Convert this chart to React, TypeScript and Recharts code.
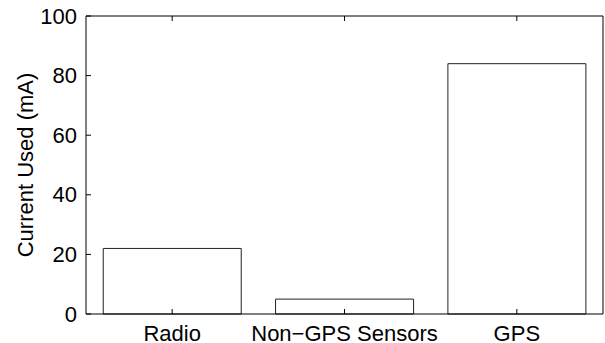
import { BarChart, Bar, XAxis, YAxis } from 'recharts'

const categories = ['Radio', 'Non\u2212GPS Sensors', 'GPS']
const currentUsed = [22, 5, 84]
const yTicks = [0, 20, 40, 60, 80, 100]

const data = categories.map((name, i) => ({ name, value: currentUsed[i] }))

const FONT = 'Liberation Sans, Arial, Helvetica, sans-serif'
const TICK_LEN = 5
const PLOT = { left: 86, right: 603, top: 16, bottom: 314 }

// ticks drawn inward, MATLAB style
function LeftTick(props: any) {
  const { y, payload } = props
  const x = PLOT.left
  return (
    <g>
      <line x1={x} x2={x + TICK_LEN} y1={y} y2={y} stroke="#000" />
      <text x={x - 9} y={y} dy={7.5} textAnchor="end" fontSize={22} fontFamily={FONT} fill="#000">
        {payload.value}
      </text>
    </g>
  )
}

function RightTick(props: any) {
  const { y } = props
  const x = PLOT.right
  return <line x1={x} x2={x - TICK_LEN} y1={y} y2={y} stroke="#000" />
}

function BottomTick(props: any) {
  const { x, payload } = props
  const y = PLOT.bottom
  return (
    <g>
      <line x1={x} x2={x} y1={y} y2={y - TICK_LEN} stroke="#000" />
      <text x={x} y={341} textAnchor="middle" fontSize={22} fontFamily={FONT} fill="#000">
        {payload.value}
      </text>
    </g>
  )
}

function TopTick(props: any) {
  const { x } = props
  const y = PLOT.top
  return <line x1={x} x2={x} y1={y} y2={y + TICK_LEN} stroke="#000" />
}

function YLabel() {
  const cy = (PLOT.top + PLOT.bottom) / 2
  return (
    <text
      x={33}
      y={cy}
      transform={`rotate(-90, 33, ${cy})`}
      textAnchor="middle"
      fontSize={22}
      fontFamily={FONT}
      fill="#000"
    >
      Current Used (mA)
    </text>
  )
}

export default function App() {
  return (
    <div style={{ position: 'absolute', left: 0, top: 0, width: 605, height: 343, background: '#fff' }}>
      <BarChart
        width={605}
        height={343}
        data={data}
        margin={{ top: 15, right: 1, left: 0, bottom: 0 }}
        barCategoryGap="10%"
      >
        <XAxis
          dataKey="name"
          height={29}
          stroke="#000"
          tickLine={false}
          tick={<BottomTick />}
          interval={0}
        />
        <XAxis
          xAxisId="top"
          dataKey="name"
          orientation="top"
          height={1}
          stroke="#000"
          tickLine={false}
          tick={<TopTick />}
          interval={0}
        />
        <YAxis
          width={86}
          domain={[0, 100]}
          ticks={yTicks}
          stroke="#000"
          tickLine={false}
          tick={<LeftTick />}
          label={<YLabel />}
        />
        <YAxis
          yAxisId="right"
          orientation="right"
          width={1}
          domain={[0, 100]}
          ticks={yTicks}
          stroke="#000"
          tickLine={false}
          tick={<RightTick />}
        />
        <Bar dataKey="value" fill="#fff" stroke="#222" strokeWidth={1} isAnimationActive={false} />
      </BarChart>
    </div>
  )
}
